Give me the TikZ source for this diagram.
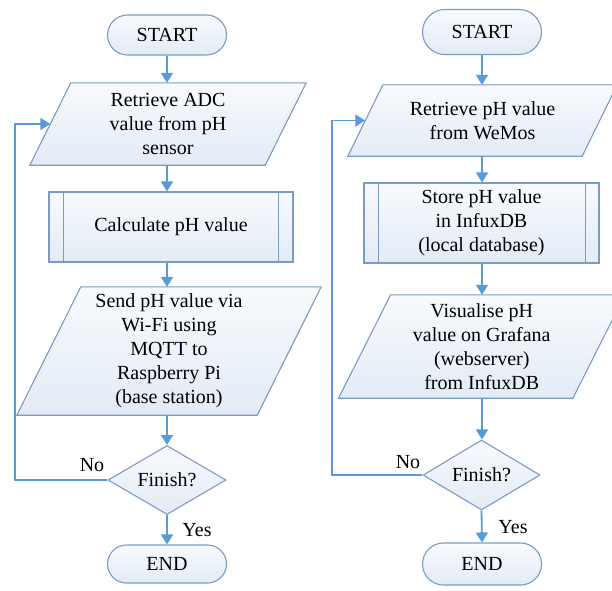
\documentclass[tikz,border=0pt]{standalone}
\usepackage{fontspec}
\setmainfont{Liberation Serif}
\newfontfamily\timesfont{Liberation Serif}
\usetikzlibrary{arrows.meta,shapes.misc,shapes.geometric,calc}
\pgfdeclarelayer{bg}
\pgfsetlayers{bg,main}
\definecolor{arrblue}{HTML}{5B9BD5}
\definecolor{edgeblue}{HTML}{7A9CC4}
\definecolor{fillA}{HTML}{F8FAFD}
\definecolor{fillB}{HTML}{E3EBF5}
\begin{document}
\begin{tikzpicture}[x=1pt,y=-1pt,
  every node/.style={font=\timesfont\fontsize{20}{24}\selectfont},
  shp/.style={draw=edgeblue, line width=1.1pt, top color=fillA, bottom color=fillB},
  term/.style={shp, rounded rectangle, minimum width=119pt, minimum height=40pt, inner sep=0pt},
  body/.style={inner sep=0pt, align=center},
  proc/.style={shp, rectangle, inner sep=0pt, align=center},
  dec/.style={shp, diamond, aspect=1.75, inner sep=0pt, minimum width=118pt, minimum height=69pt},
  inner/.style={draw=edgeblue, line width=1.1pt},
  arr/.style={draw=arrblue, line width=1.8pt, -{Triangle[width=12pt,length=10pt]}},
  lbl/.style={inner sep=0pt}
]
\useasboundingbox (0,0) rectangle (612,590);

% ---------- left flowchart ----------
\node[term] (s1) at (167,35) {START};
\node[body, minimum width=235pt, minimum height=82pt] (p1) at (168,124)
  {Retrieve ADC\\value from pH\\sensor};
\node[proc, minimum width=244pt, minimum height=70pt] (c1) at (171,227) {Calculate pH value};
\node[body, minimum width=240pt, minimum height=128pt] (p2) at (169,351)
  {Send pH value via\\Wi-Fi using\\MQTT to\\Raspberry Pi\\(base station)};
\node[dec] (d1) at (167,480) {Finish?};
\node[term, minimum height=38pt] (e1) at (167,564) {END};
\node[lbl] (no1) at (92,465) {No};
\node[lbl] (yes1) at (197,530) {Yes};
\coordinate (fb1) at (15,480);

% ---------- right flowchart ----------
\node[term, minimum height=45pt] (s2) at (482,32) {START};
\node[body, minimum width=234pt, minimum height=71pt] (p5) at (482.5,120.5)
  {Retrieve pH value\\from WeMos};
\node[proc, minimum width=235pt, minimum height=80pt] (c2) at (481.5,223)
  {Store pH value\\in InfuxDB\\(local database)};
\node[body, minimum width=234pt, minimum height=103pt] (p6) at (481.75,346.5)
  {Visualise pH\\value on Grafana\\(webserver)\\from InfuxDB};
\node[dec, minimum width=117pt, minimum height=70pt] (d2) at (481.5,475) {Finish?};
\node[term, minimum height=42pt] (e2) at (482,564) {END};
\node[lbl] (no2) at (408,462) {No};
\node[lbl] (yes2) at (513,527) {Yes};
\coordinate (fb2) at (332,475);

% ---------- parallelograms and inner lines ----------
\begin{pgfonlayer}{bg}
\path[shp] ($(p1.south west)+(-20.5,0)$) -- ($(p1.south east)+(-20.5,0)$)
  -- ($(p1.north east)+(20.5,0)$) -- ($(p1.north west)+(20.5,0)$) -- cycle;
\path[shp] ($(p2.south west)+(-32,0)$) -- ($(p2.south east)+(-32,0)$)
  -- ($(p2.north east)+(32,0)$) -- ($(p2.north west)+(32,0)$) -- cycle;
\path[shp] ($(p5.south west)+(-17.5,0)$) -- ($(p5.south east)+(-17.5,0)$)
  -- ($(p5.north east)+(17.5,0)$) -- ($(p5.north west)+(17.5,0)$) -- cycle;
\path[shp] ($(p6.south west)+(-26,0)$) -- ($(p6.south east)+(-26,0)$)
  -- ($(p6.north east)+(26,0)$) -- ($(p6.north west)+(26,0)$) -- cycle;
\end{pgfonlayer}
\draw[inner] ($(c1.north west)+(15,0)$) -- ($(c1.south west)+(15,0)$);
\draw[inner] ($(c1.north east)+(-15,0)$) -- ($(c1.south east)+(-15,0)$);
\draw[inner] ($(c2.north west)+(15,0)$) -- ($(c2.south west)+(15,0)$);
\draw[inner] ($(c2.north east)+(-14,0)$) -- ($(c2.south east)+(-14,0)$);

% ---------- connectors ----------
\draw[arr] (s1.south) -- (s1.south |- p1.north);
\draw[arr] (s1.south |- p1.south) -- (s1.south |- c1.north);
\draw[arr] (s1.south |- c1.south) -- (s1.south |- p2.north);
\draw[arr] (s1.south |- p2.south) -- (d1.north);
\draw[arr] (d1.south) -- (e1.north);
\draw[arr] (d1.west) -- (fb1) |- (p1.west);

\draw[arr] (s2.south) -- (s2.south |- p5.north);
\draw[arr] (s2.south |- p5.south) -- (s2.south |- c2.north);
\draw[arr] (s2.south |- c2.south) -- (s2.south |- p6.north);
\draw[arr] (s2.south |- p6.south) -- (s2.south |- d2.north);
\draw[arr] (d2.south) -- (s2.south |- e2.north);
\draw[arr] (d2.west) -- (fb2) |- (p5.west);
\end{tikzpicture}
\end{document}
